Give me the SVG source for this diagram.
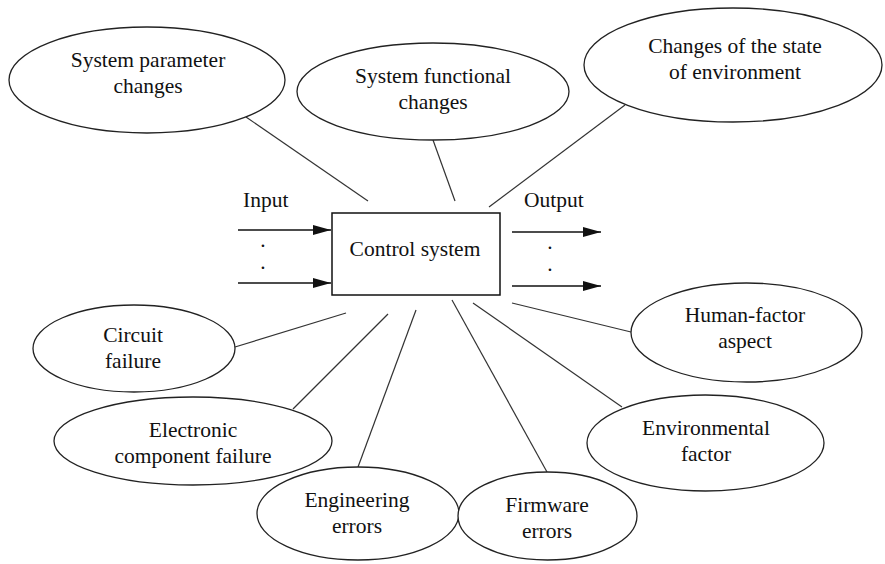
<svg xmlns="http://www.w3.org/2000/svg" width="885" height="564" viewBox="0 0 885 564">
<style>
.n{fill:#fff;stroke:#222;stroke-width:1.3}
.t{font-size:21.5px;fill:#111;text-anchor:middle}
.l{font-size:21.5px;fill:#111}
.c{stroke:#333;stroke-width:1.2;fill:none}
.a{stroke:#111;stroke-width:1.6;fill:none}
</style>
<defs>
<marker id="ah" markerWidth="18" markerHeight="10" refX="18" refY="5" orient="auto" markerUnits="userSpaceOnUse">
<path d="M0,0 L18,5 L0,10 Z" fill="#111"/>
</marker>
</defs>
<rect width="885" height="564" fill="#fff"/>
<g id="connectors">
<line class="c" x1="246" y1="117" x2="368" y2="201"/>
<line class="c" x1="433" y1="140" x2="455" y2="201"/>
<line class="c" x1="625" y1="105" x2="489" y2="207"/>
<line class="c" x1="235" y1="347" x2="346" y2="313"/>
<line class="c" x1="293" y1="409" x2="388" y2="314"/>
<line class="c" x1="358" y1="467" x2="416" y2="310"/>
<line class="c" x1="547" y1="472" x2="452" y2="300"/>
<line class="c" x1="622" y1="407" x2="473" y2="303"/>
<line class="c" x1="631" y1="332" x2="512" y2="303"/>
<line class="a" x1="238" y1="230" x2="331" y2="230" marker-end="url(#ah)"/>
<line class="a" x1="238" y1="283" x2="331" y2="283" marker-end="url(#ah)"/>
<line class="a" x1="512" y1="232" x2="601" y2="232" marker-end="url(#ah)"/>
<line class="a" x1="512" y1="286" x2="601" y2="286" marker-end="url(#ah)"/>
</g>
<g font-family="Liberation Serif, Times New Roman, DejaVu Serif, serif">
<g id="labels">
<text class="l" x="243" y="207">Input</text>
<text class="l" x="524" y="207">Output</text>
<text class="t" x="263" y="247">.</text>
<text class="t" x="263" y="269">.</text>
<text class="t" x="550" y="249">.</text>
<text class="t" x="550" y="271">.</text>
</g>
<g id="control-system">
<rect x="332" y="213" width="168" height="82" fill="#fff" stroke="#111" stroke-width="1.5"/>
<text class="t" x="415" y="256">Control system</text>
</g>
<g id="system-parameter-changes">
<ellipse class="n" cx="147" cy="80" rx="138" ry="53"/>
<text class="t" x="148" y="67">System parameter</text>
<text class="t" x="148" y="93">changes</text>
</g>
<g id="system-functional-changes">
<ellipse class="n" cx="433" cy="91.5" rx="136" ry="48.5"/>
<text class="t" x="433" y="83">System functional</text>
<text class="t" x="433" y="109">changes</text>
</g>
<g id="changes-of-state">
<ellipse class="n" cx="733" cy="65" rx="149" ry="57"/>
<text class="t" x="735" y="53">Changes of the state</text>
<text class="t" x="735" y="79">of environment</text>
</g>
<g id="circuit-failure">
<ellipse class="n" cx="134" cy="348.5" rx="101" ry="43.5"/>
<text class="t" x="133" y="342">Circuit</text>
<text class="t" x="133" y="368">failure</text>
</g>
<g id="electronic-component-failure">
<ellipse class="n" cx="193" cy="441" rx="139" ry="44"/>
<text class="t" x="193" y="437">Electronic</text>
<text class="t" x="193" y="463">component failure</text>
</g>
<g id="engineering-errors">
<ellipse class="n" cx="358" cy="513.5" rx="101" ry="46.5"/>
<text class="t" x="357" y="507">Engineering</text>
<text class="t" x="357" y="533">errors</text>
</g>
<g id="firmware-errors">
<ellipse class="n" cx="547.5" cy="516" rx="89.5" ry="44"/>
<text class="t" x="547" y="512">Firmware</text>
<text class="t" x="547" y="538">errors</text>
</g>
<g id="environmental-factor">
<ellipse class="n" cx="705.5" cy="443" rx="118.5" ry="48"/>
<text class="t" x="706" y="435">Environmental</text>
<text class="t" x="706" y="461">factor</text>
</g>
<g id="human-factor-aspect">
<ellipse class="n" cx="746.5" cy="332.5" rx="115.5" ry="49.5"/>
<text class="t" x="745" y="322">Human-factor</text>
<text class="t" x="745" y="348">aspect</text>
</g>
</g>
</svg>
